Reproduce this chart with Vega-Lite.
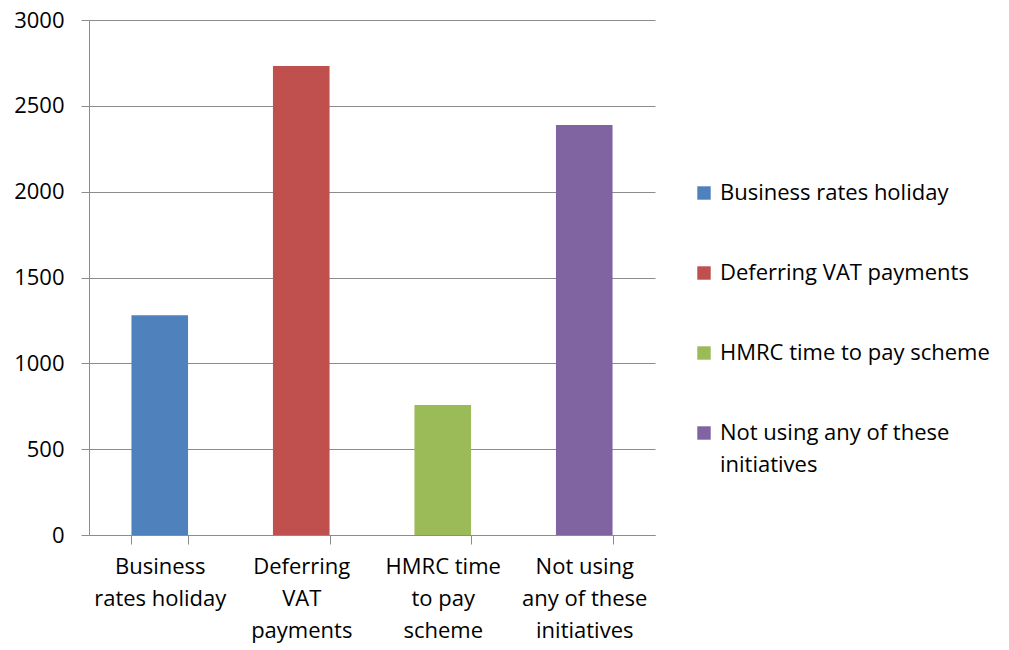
{
  "$schema": "https://vega.github.io/schema/vega-lite/v6.json",
  "width": 566,
  "height": 515,
  "autosize": {"type": "none"},
  "padding": {"left": 89, "top": 20, "right": 354, "bottom": 115},
  "background": "white",
  "config": {
    "font": "Open Sans",
    "view": {"stroke": null}
  },
  "data": {
    "values": [
      {"initiative": "Business rates holiday", "count": 1280},
      {"initiative": "Deferring VAT payments", "count": 2732},
      {"initiative": "HMRC time to pay scheme", "count": 757},
      {"initiative": "Not using any of these initiatives", "count": 2388}
    ]
  },
  "mark": {"type": "bar"},
  "encoding": {
    "x": {
      "field": "initiative",
      "type": "nominal",
      "sort": null,
      "scale": {"paddingInner": 0.6, "paddingOuter": 0.3},
      "axis": {
        "title": null,
        "labelAngle": 0,
        "labelFontSize": 22,
        "labelColor": "#000000",
        "labelLineHeight": 32,
        "labelPadding": 12,
        "labelBaseline": "top",
        "tickBand": "extent",
        "tickSize": 9,
        "tickColor": "#8c8c8c",
        "domainColor": "#8c8c8c",
        "labelLimit": 0,
        "labelExpr": "datum.value == 'Business rates holiday' ? ['Business', 'rates holiday'] : datum.value == 'Deferring VAT payments' ? ['Deferring', 'VAT', 'payments'] : datum.value == 'HMRC time to pay scheme' ? ['HMRC time', 'to pay', 'scheme'] : datum.value == 'Not using any of these initiatives' ? ['Not using', 'any of these', 'initiatives'] : ''"
      }
    },
    "y": {
      "field": "count",
      "type": "quantitative",
      "scale": {"domain": [0, 3000]},
      "axis": {
        "title": null,
        "values": [0, 500, 1000, 1500, 2000, 2500, 3000],
        "format": "d",
        "labelFontSize": 22,
        "labelColor": "#000000",
        "labelPadding": 17,
        "tickSize": 8,
        "tickColor": "#8c8c8c",
        "domainColor": "#8c8c8c",
        "gridColor": "#8c8c8c",
        "grid": true,
        "gridOpacity": 1
      }
    },
    "color": {
      "field": "initiative",
      "type": "nominal",
      "sort": null,
      "scale": {"range": ["#4F81BD", "#C0504D", "#9BBB59", "#8064A2"]},
      "legend": {
        "title": null,
        "orient": "none",
        "legendX": 604,
        "legendY": 162,
        "symbolType": "square",
        "symbolSize": 180,
        "symbolStrokeWidth": 0,
        "labelFontSize": 22,
        "labelColor": "#000000",
        "labelLimit": 0,
        "labelOffset": 5,
        "rowPadding": 58,
        "labelExpr": "datum.label == 'Not using any of these initiatives' ? ['Not using any of these', 'initiatives'] : datum.label",
        "encode": {
          "labels": {"update": {"lineHeight": {"value": 32}}}
        }
      }
    }
  }
}
